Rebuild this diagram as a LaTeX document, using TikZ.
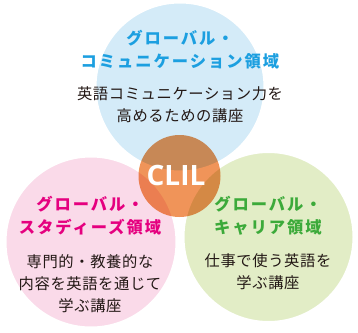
\documentclass[tikz,border=0pt]{standalone}
\usepackage{fontspec}
\newfontfamily\jpfont{Noto Sans CJK JP}[LetterSpace=4]
\newfontfamily\jptitlefont{Noto Sans CJK JP}[LetterSpace=12]
\newfontfamily\clilfont{Open Sans}
\definecolor{skyfill}{HTML}{D4EBF8}
\definecolor{pinkfill}{HTML}{FADAE9}
\definecolor{leaffill}{HTML}{E2EDC6}
\definecolor{skytext}{HTML}{1C9FE0}
\definecolor{pinktext}{HTML}{E5007F}
\definecolor{leaftext}{HTML}{3CAA3A}
\definecolor{clilorange}{HTML}{F09459}
\definecolor{bodytext}{HTML}{231815}
\begin{document}
\begin{tikzpicture}[x=1pt,y=-1pt,
    area/.style={draw=white, line width=3pt},
    title/.style={align=center, inner sep=0pt, font=\jptitlefont\bfseries\fontsize{16.3}{23}\selectfont},
    body/.style={align=center, inner sep=0pt, text=bodytext, font=\jpfont\fontsize{15.3}{22}\selectfont}]
    \useasboundingbox (0,0) rectangle (358,332);
    % three fields, the communication one on top
    \fill[pinkfill, area] (91,242) circle (86pt);
    \fill[leaffill, area] (268.5,237) circle (85.5pt);
    \fill[skyfill, area] (180,87) circle (85pt);
    % CLIL in the middle
    \fill[clilorange, blend mode=multiply] (179.5,176) circle (41pt);
    \node[text=white, font=\clilfont\bfseries\fontsize{28}{28}\selectfont, inner sep=0pt] (clil) at (176,175) {CLIL};
    % communication
    \node[title, text=skytext] (commtitle) at (180,50) {グローバル・\\コミュニケーション領域};
    \node[body] (commbody) at (180,104.5) {英語コミュニケーション力を\\高めるための講座};
    % studies
    \node[title, text=pinktext] (studtitle) at (90,216) {グローバル・\\スタディーズ領域};
    \node[body] (studbody) at (90,283.5) {専門的・教養的な\\内容を英語を通じて\\学ぶ講座};
    % career
    \node[title, text=leaftext] (cartitle) at (268,215.5) {グローバル・\\キャリア領域};
    \node[body] (carbody) at (268,272) {仕事で使う英語を\\学ぶ講座};
\end{tikzpicture}
\end{document}
